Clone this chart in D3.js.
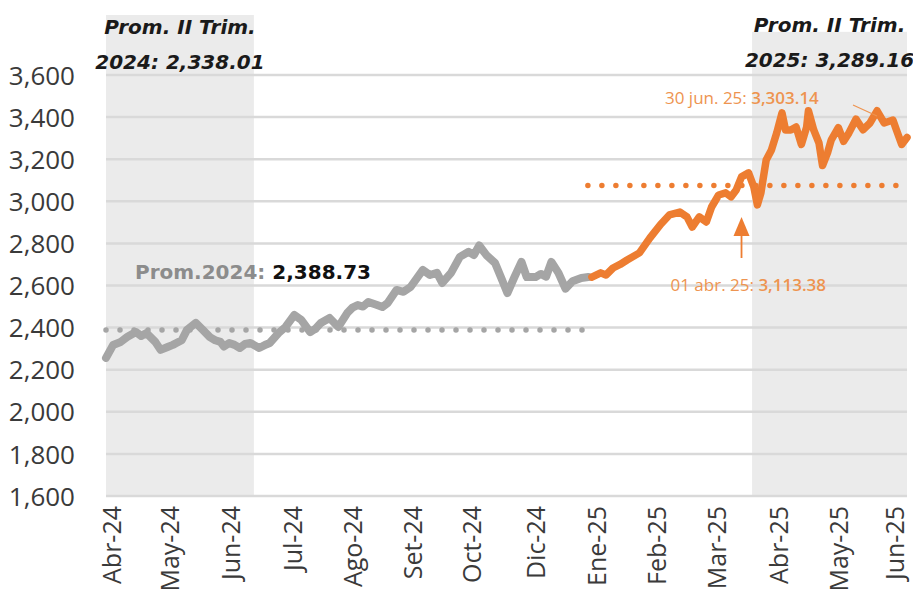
<!DOCTYPE html>
<html><head><meta charset="utf-8">
<script src="https://cdn.jsdelivr.net/npm/d3@7/dist/d3.min.js"></script>
<style>html,body{margin:0;padding:0;background:#fff;}</style>
</head><body>
<script>
// ---- data ----
const dates2024 = ["2024-04-01","2024-04-05","2024-04-09","2024-04-13","2024-04-18","2024-04-21","2024-04-24","2024-04-29","2024-05-02","2024-05-06","2024-05-09","2024-05-11","2024-05-14","2024-05-17","2024-05-22","2024-05-26","2024-05-30","2024-06-02","2024-06-05","2024-06-07","2024-06-10","2024-06-13","2024-06-16","2024-06-19","2024-06-22","2024-06-27","2024-07-01","2024-07-03","2024-07-08","2024-07-12","2024-07-17","2024-07-21","2024-07-26","2024-07-29","2024-08-01","2024-08-06","2024-08-11","2024-08-16","2024-08-19","2024-08-22","2024-08-25","2024-08-28","2024-09-02","2024-09-05","2024-09-08","2024-09-13","2024-09-17","2024-09-21","2024-09-28","2024-10-02","2024-10-06","2024-10-09","2024-10-14","2024-10-19","2024-10-24","2024-10-27","2024-10-30","2024-11-03","2024-11-08","2024-11-12","2024-11-15","2024-11-19","2024-11-23","2024-11-26","2024-12-01","2024-12-04","2024-12-07","2024-12-10","2024-12-14","2024-12-18","2024-12-22","2024-12-27","2024-12-31"];
const values2024 = [2256,2317,2330,2355,2379,2360,2374,2332,2294,2308,2318,2327,2340,2389,2422,2389,2355,2340,2332,2310,2327,2318,2303,2322,2327,2303,2320,2327,2374,2403,2460,2436,2379,2395,2422,2446,2403,2469,2495,2507,2500,2522,2507,2498,2517,2579,2570,2593,2674,2650,2660,2612,2660,2736,2760,2745,2790,2745,2707,2626,2564,2640,2712,2640,2640,2655,2642,2712,2660,2585,2620,2636,2640];
const dates2025 = ["2025-01-02","2025-01-07","2025-01-10","2025-01-14","2025-01-18","2025-01-22","2025-01-29","2025-02-04","2025-02-10","2025-02-15","2025-02-21","2025-02-25","2025-02-28","2025-03-04","2025-03-08","2025-03-11","2025-03-15","2025-03-19","2025-03-22","2025-03-25","2025-03-28","2025-04-01","2025-04-04","2025-04-06","2025-04-08","2025-04-11","2025-04-14","2025-04-17","2025-04-20","2025-04-22","2025-04-25","2025-04-28","2025-05-01","2025-05-04","2025-05-05","2025-05-08","2025-05-11","2025-05-13","2025-05-16","2025-05-18","2025-05-22","2025-05-25","2025-05-28","2025-06-01","2025-06-05","2025-06-09","2025-06-13","2025-06-17","2025-06-22","2025-06-24","2025-06-27","2025-06-30"];
const values2025 = [2640,2660,2650,2683,2700,2721,2755,2826,2890,2935,2949,2926,2878,2926,2902,2973,3030,3040,3021,3054,3116,3135,3068,2983,3040,3196,3244,3325,3420,3339,3339,3353,3270,3353,3430,3339,3277,3170,3234,3292,3350,3285,3325,3390,3340,3372,3430,3372,3386,3339,3270,3303];
const avg2024 = 2388.73;
const avg2025 = 3075;
const shadePeriods = [["2024-04-01","2024-06-24"],["2025-04-03","2025-06-30"]];
const shadeTops = [3885, 3805];
const quarterTitles = ["Prom. II Trim.","Prom. II Trim."];
const quarterValues = ["2024: 2,338.01","2025: 3,289.16"];
const tickDates = ["2024-04-04","2024-05-07","2024-06-11","2024-07-16","2024-08-19","2024-09-22","2024-10-26","2024-12-01","2025-01-05","2025-02-08","2025-03-14","2025-04-18","2025-05-22","2025-06-23"];
const tickLabels = ["Abr-24","May-24","Jun-24","Jul-24","Ago-24","Set-24","Oct-24","Dic-24","Ene-25","Feb-25","Mar-25","Abr-25","May-25","Jun-25"];
const yTicks = [1600,1800,2000,2200,2400,2600,2800,3000,3200,3400,3600];
const lastLabel = {date:"2025-06-30", text:"30 jun. 25: ", value:"3,303.14"};
const aprLabel = {date:"2025-03-28", text:"01 abr. 25: ", value:"3,113.38"};

// ---- chart ----
const W=913, H=616;
const parse = d3.timeParse("%Y-%m-%d");
const svg = d3.select("body").append("svg").attr("width",W).attr("height",H);
const x = d3.scaleTime().domain([parse("2024-04-01"), parse("2025-06-30")]).range([106, 907]);
const y = d3.scaleLinear().domain([1600,3600]).range([496,75]);
const gray="#A5A5A5", orange="#ED7D31", orangeTxt="#EE9450";

// shading
svg.append("g").selectAll("rect").data(shadePeriods).join("rect")
  .attr("x", d=>x(parse(d[0]))).attr("width", d=>x(parse(d[1]))-x(parse(d[0])))
  .attr("y", (d,i)=>y(shadeTops[i])).attr("height", (d,i)=>y(1600)-y(shadeTops[i]))
  .attr("fill","#EBEBEB");

// gridlines
svg.append("g").selectAll("line").data(yTicks).join("line")
  .attr("x1",106).attr("x2",907).attr("y1",d=>y(d)).attr("y2",d=>y(d))
  .attr("stroke","#D9D9D9").attr("stroke-width",2.5);

// y labels
const yAxis = d3.axisLeft(y).tickValues(yTicks).tickFormat(d3.format(",")).tickSize(0).tickPadding(0);
const ga = svg.append("g").attr("transform","translate(75,0)").call(yAxis);
ga.select(".domain").remove();
ga.selectAll("text").attr("font-family","'Open Sans'").attr("font-size",26).attr("fill","#3a3a3a").attr("dy","0.35em");

// x labels
const xAxis = d3.axisBottom(x).tickValues(tickDates.map(parse)).tickFormat((d,i)=>tickLabels[i]).tickSize(0);
const gx = svg.append("g").attr("transform","translate(0,496)").call(xAxis);
gx.select(".domain").remove();
gx.selectAll("text").attr("font-family","'Open Sans'").attr("font-size",25).attr("fill","#3a3a3a")
  .attr("text-anchor","end").attr("transform","rotate(-90)").attr("x",-10).attr("y",0).attr("dy","0.35em");

// averages
svg.append("line").attr("x1",x(parse(dates2024[0]))).attr("x2",x(parse("2024-12-31"))+2)
  .attr("y1",y(avg2024)).attr("y2",y(avg2024))
  .attr("stroke",gray).attr("stroke-width",5.5).attr("stroke-linecap","round").attr("stroke-dasharray","0 14");
svg.append("line").attr("x1",x(parse(dates2025[0]))-4).attr("x2",907)
  .attr("y1",y(avg2025)).attr("y2",y(avg2025))
  .attr("stroke",orange).attr("stroke-width",5.5).attr("stroke-linecap","round").attr("stroke-dasharray","0 14");

// lines
const line = d3.line().x(d=>x(d[0])).y(d=>y(d[1])).curve(d3.curveLinear);
const s24 = dates2024.map((d,i)=>[parse(d), values2024[i]]);
const s25 = dates2025.map((d,i)=>[parse(d), values2025[i]]);
svg.append("path").attr("d",line(s24)).attr("fill","none").attr("stroke",gray).attr("stroke-width",8).attr("stroke-linejoin","round").attr("stroke-linecap","round");
svg.append("path").attr("d",line(s25)).attr("fill","none").attr("stroke",orange).attr("stroke-width",7.5).attr("stroke-linejoin","round").attr("stroke-linecap","round");

// quarter annotations
shadePeriods.forEach((p,i)=>{
  const cx = (x(parse(p[0]))+x(parse(p[1])))/2;
  const t = svg.append("text").attr("x",cx).attr("text-anchor","middle")
    .attr("font-family","'DejaVu Sans'").attr("font-weight","bold").attr("font-style","italic")
    .attr("font-size",20).attr("fill","#1a1a1a");
  t.append("tspan").attr("x",cx).attr("y",i===0?34:32).text(quarterTitles[i]);
  t.append("tspan").attr("x",cx).attr("y",i===0?69:67).text(quarterValues[i]);
});

// average 2024 label
const pl = svg.append("text").attr("x",135).attr("y",279).attr("font-family","'DejaVu Sans'").attr("font-weight","bold").attr("font-size",20);
pl.append("tspan").attr("fill","#8C8C8C").text("Prom.2024: ");
pl.append("tspan").attr("fill","#111").text(d3.format(",.2f")(avg2024));

// 30 jun label
const lx = x(parse(lastLabel.date));
const t1 = svg.append("text").attr("x",lx-242).attr("y",104).attr("font-family","'Open Sans'").attr("font-size",17).attr("fill",orangeTxt);
t1.append("tspan").text(lastLabel.text);
t1.append("tspan").attr("font-weight",600).text(lastLabel.value);
svg.append("line").attr("x1",lx-54).attr("y1",105).attr("x2",lx-30).attr("y2",116).attr("stroke",orangeTxt).attr("stroke-width",1.2);

// 01 abr label + arrow
const ax = x(parse(aprLabel.date));
const t2 = svg.append("text").attr("x",ax-71).attr("y",291).attr("font-family","'Open Sans'").attr("font-size",17).attr("fill",orangeTxt);
t2.append("tspan").text(aprLabel.text);
t2.append("tspan").attr("font-weight",600).text(aprLabel.value);
svg.append("line").attr("x1",ax).attr("x2",ax).attr("y1",258).attr("y2",232).attr("stroke",orange).attr("stroke-width",1.8);
svg.append("path").attr("d",`M${ax},217 L${ax-8},236 L${ax+8},236 Z`).attr("fill",orange);
</script>
</body></html>
